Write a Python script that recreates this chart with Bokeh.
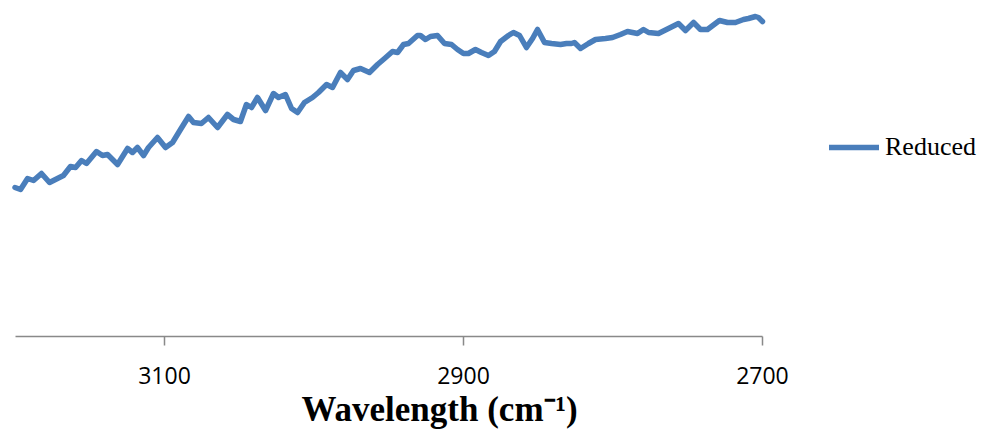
from bokeh.plotting import figure
from bokeh.models import Range1d, FixedTicker, Legend, LegendItem, Title, ColumnDataSource
from bokeh.embed import file_html
from bokeh.resources import INLINE

# FTIR spectrum of the reduced sample, 3200-2700 cm^-1 (relative signal)
wavenumber = [
    3200.0, 3196.3, 3191.6, 3187.6, 3182.3, 3176.9, 3171.6, 3167.6, 3162.9, 3159.5,
    3155.5, 3152.2, 3145.5, 3141.5, 3138.1, 3131.4, 3124.7, 3121.4, 3118.1, 3114.0,
    3110.7, 3104.7, 3099.3, 3094.6, 3089.3, 3083.9, 3080.6, 3075.3, 3070.6, 3064.5,
    3057.9, 3053.8, 3049.2, 3045.2, 3041.8, 3037.8, 3032.4, 3027.1, 3023.7, 3019.1,
    3015.0, 3011.0, 3006.4, 3001.0, 2997.0, 2991.6, 2987.6, 2982.3, 2977.6, 2973.6,
    2968.9, 2962.9, 2957.5, 2952.8, 2947.5, 2944.1, 2940.1, 2936.8, 2930.8, 2928.8,
    2925.4, 2922.1, 2917.4, 2912.7, 2908.0, 2904.0, 2900.0, 2896.7, 2892.0, 2888.0,
    2883.3, 2879.3, 2875.2, 2869.9, 2866.6, 2862.5, 2857.9, 2853.8, 2850.5, 2845.8,
    2841.1, 2835.1, 2831.1, 2827.8, 2825.8, 2821.7, 2816.4, 2811.7, 2805.0, 2800.3,
    2795.0, 2790.3, 2783.6, 2779.6, 2776.2, 2769.6, 2762.9, 2756.2, 2751.5, 2746.1,
    2741.5, 2736.8, 2728.8, 2723.4, 2718.1, 2712.7, 2709.4, 2704.7, 2702.7, 2700.0,
]
reduced = [
    149, 147, 158, 156, 163, 154, 158, 161, 170, 169,
    176, 173, 185, 181, 182, 172, 188, 184, 189, 181,
    189, 199, 189, 194, 207, 220, 214, 213, 219, 209,
    222, 217, 215, 232, 229, 239, 226, 243, 239, 242,
    228, 224, 234, 239, 244, 252, 249, 264, 257, 266,
    268, 264, 272, 278, 285, 284, 292, 293, 301, 301,
    297, 300, 301, 293, 292, 287, 283, 283, 287, 284,
    281, 285, 295, 301, 304, 301, 289, 298, 307, 294,
    293, 292, 293, 293, 294, 288, 293, 297, 298, 299,
    302, 305, 303, 307, 304, 303, 308, 313, 306, 314,
    307, 307, 316, 314, 314, 317, 318, 320, 319, 315,
]
tick_values = [3100, 2900, 2700]
axis_title = "Wavelength (cm\u207b\u00b9)"
series_name = "Reduced"

source = ColumnDataSource(data=dict(wn=wavenumber, sig=reduced))

# the frame spans the whole canvas width so the legend can sit to the right
# of the spectrum; the axis line itself is limited to 3200-2700 via bounds
p = figure(
    width=981, height=437,
    output_backend="svg", toolbar_location=None,
    x_range=Range1d(3209.7, 2553.5), y_range=Range1d(0, 330),
    y_axis_location=None,
    min_border_left=0, min_border_right=0,
    min_border_top=6, min_border_bottom=101,
)
p.outline_line_color = None
p.xgrid.visible = False
p.ygrid.visible = False

blue = "#4A7EBB"
r = p.line("wn", "sig", source=source, line_color=blue, line_width=5.5,
           line_join="round", line_cap="round")

ax = p.xaxis[0]
ax.bounds = (2700, 3200)
ax.ticker = FixedTicker(ticks=tick_values)
ax.axis_line_color = "#898989"
ax.axis_line_width = 1.5
ax.major_tick_line_color = "#898989"
ax.major_tick_line_width = 1.5
ax.major_tick_in = 0
ax.major_tick_out = 9
ax.minor_tick_out = 0
ax.minor_tick_in = 0
ax.major_label_standoff = 21
ax.major_label_text_font = "Open Sans"
ax.major_label_text_font_size = "23px"
ax.major_label_text_color = "#000000"

p.add_layout(Title(text=axis_title, align="left", offset=301, standoff=2,
                   vertical_align="bottom",
                   text_font="Liberation Serif", text_font_size="35px",
                   text_font_style="bold", text_color="black"), "below")

legend = Legend(
    items=[LegendItem(label=series_name, renderers=[r])],
    location=(829, 174),
    label_text_font="Liberation Serif", label_text_font_size="26px",
    label_text_color="black",
    glyph_width=50, glyph_height=20, label_standoff=6,
    padding=0, margin=0, spacing=0,
    border_line_color=None, background_fill_alpha=0,
)
p.add_layout(legend, "center")

open("out.html", "w").write(file_html(p, INLINE))
